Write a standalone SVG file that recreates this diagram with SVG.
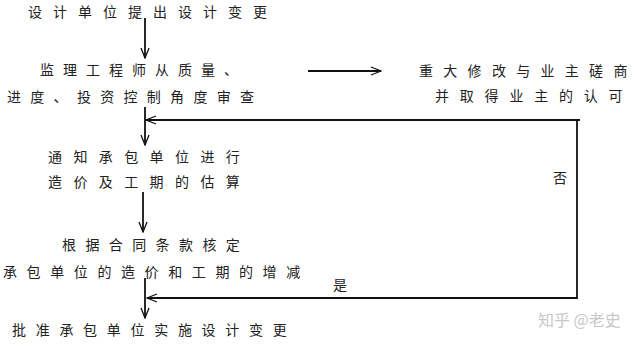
<svg xmlns="http://www.w3.org/2000/svg" width="641" height="349" viewBox="0 0 641 349">
<style>
.t{font-family:"Noto Sans CJK SC","Noto Sans",sans-serif;font-size:14px;fill:#222}
.w{font-family:"Noto Sans CJK SC","Noto Sans",sans-serif;font-size:16px;fill:#c8c8c8}
.c{stroke:#111;stroke-width:1.8;fill:none}
</style>
<defs>
<marker id="ah" markerWidth="12" markerHeight="10" refX="11" refY="5" orient="auto" markerUnits="userSpaceOnUse">
<path d="M1,1 L11,5 L1,9" fill="none" stroke="#111" stroke-width="1.3"/>
</marker>
</defs>
<rect width="641" height="349" fill="#fff"/>
<g id="connectors">
<path class="c" d="M145,18 L145,58" marker-end="url(#ah)"/>
<path class="c" d="M308,71 L381,71" marker-end="url(#ah)"/>
<path class="c" d="M145,107 L145,145" marker-end="url(#ah)"/>
<path class="c" d="M580,120 L146,120" marker-end="url(#ah)"/>
<path class="c" d="M577,120 L577,298 L147,298" marker-end="url(#ah)"/>
<path class="c" d="M143,192 L143,232" marker-end="url(#ah)"/>
<path class="c" d="M145,278 L145,318" marker-end="url(#ah)"/>
<text class="t" x="553" y="183">否</text>
<text class="t" x="333" y="290">是</text>
</g>
<g id="n1"><text class="t" x="28" y="17" letter-spacing="11">设计单位提出设计变更</text></g>
<g id="n2">
<text class="t" x="40" y="75" letter-spacing="9">监理工程师从质量、</text>
<text class="t" x="7" y="102" letter-spacing="9.3">进度、投资控制角度审查</text>
</g>
<g id="n3">
<text class="t" x="419" y="76" letter-spacing="10.3">重大修改与业主磋商</text>
<text class="t" x="435" y="101" letter-spacing="10.8">并取得业主的认可</text>
</g>
<g id="n4">
<text class="t" x="48" y="162" letter-spacing="11.4">通知承包单位进行</text>
<text class="t" x="48" y="187" letter-spacing="11.4">造价及工期的估算</text>
</g>
<g id="n5">
<text class="t" x="62" y="250" letter-spacing="9.4">根据合同条款核定</text>
<text class="t" x="3" y="277" letter-spacing="9.6">承包单位的造价和工期的增减</text>
</g>
<g id="n6"><text class="t" x="12" y="335" letter-spacing="9.7">批准承包单位实施设计变更</text></g>
<text class="w" x="538" y="326">知乎 @老史</text>
</svg>
